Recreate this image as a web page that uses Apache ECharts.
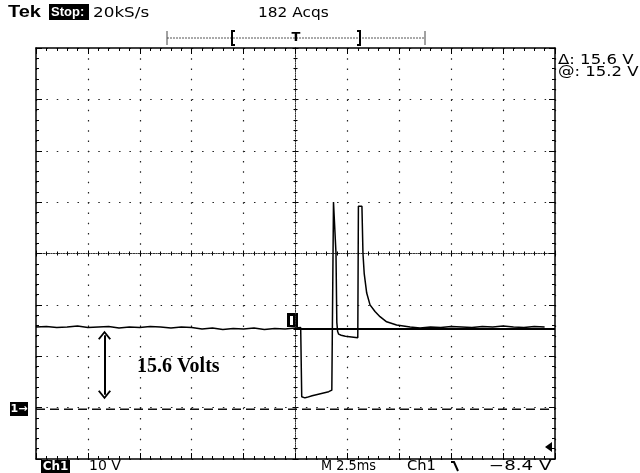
<!DOCTYPE html>
<html>
<head>
<meta charset="utf-8">
<script src="https://cdn.jsdelivr.net/npm/echarts@6/dist/echarts.min.js"></script>
<style>
  html, body { margin: 0; padding: 0; background: #fff; }
  #chart { width: 640px; height: 473px; }
</style>
</head>
<body>
<div id="chart"></div>
<script>
// Channel 1 capture: time in ms (trigger at 0), voltage in V
const traceTime = [
  -12.5, -12.0, -11.5, -11.0, -10.5, -10.0, -9.5, -9.0, -8.5, -8.0,
  -7.5, -7.0, -6.5, -6.0, -5.5, -5.0, -4.5, -4.0, -3.5, -3.0,
  -2.5, -2.0, -1.5, -1.0, -0.5, 0.0, 0.25,
  0.30, 0.45, 0.55, 0.8, 1.0, 1.2, 1.4, 1.6, 1.75, 1.80,
  1.83, 1.90, 1.95, 1.99, 2.03, 2.08, 2.2, 2.4, 2.6, 2.8, 3.0,
  3.03, 3.20, 3.25, 3.31, 3.43, 3.59, 3.83, 4.07, 4.39, 4.87, 5.52,
  6.0, 6.5, 7.0, 7.5, 8.0, 8.5, 9.0, 9.5, 10.0, 10.5, 11.0, 11.5, 12.0, 12.5
];
const traceVolts = [
  15.6, 15.7, 15.5, 15.6, 15.8, 15.5, 15.6, 15.7, 15.4, 15.6,
  15.5, 15.7, 15.6, 15.4, 15.6, 15.5, 15.2, 15.4, 15.1, 15.3,
  15.2, 15.4, 15.1, 15.3, 15.2, 15.4, 15.5,
  2.0, 1.8, 1.9, 2.2, 2.4, 2.6, 2.8, 3.0, 3.3, 3.5,
  39.9, 39.9, 30.0, 16.5, 14.7, 14.2, 14.0, 13.8, 13.7, 13.6, 13.5,
  39.1, 39.1, 29.9, 26.0, 22.2, 19.9, 18.6, 17.6, 16.6, 16.0, 15.6,
  15.4, 15.6, 15.5, 15.7, 15.6, 15.5, 15.7, 15.6, 15.8, 15.6, 15.5, 15.7, 15.6
];

// Horizontal bar cursors (V) and the marked amplitude
const cursorActive = 15.2;
const cursorRef = -0.4;
const cursorStart = -0.1;
const arrowTime = -9.2;
const arrowVolts = [2.4, 14.0];

// Screen scale: 10 horizontal divisions of 2.5 ms, 8 vertical of 10 V
const timeRange = [-12.5, 12.5];
const voltRange = [-10.1, 69.9];
const divX = [-5, 5];
const divY = [-4, 4];

const tracePairs = traceTime.map((t, i) => [t, traceVolts[i]]);

const G = { left: 36, top: 48, width: 519, height: 411 };
const ink = '#000';
const screenFont = '14px "DejaVu Sans", "Liberation Sans", sans-serif';

function frameAxis(gridIndex, position, range, dash, split) {
  return {
    type: 'value', gridIndex, position, min: range[0], max: range[1], interval: 1,
    axisLine: { show: true, onZero: false, lineStyle: { color: ink, width: 1.5 } },
    axisTick: { show: true, inside: true, length: 6, lineStyle: { color: ink } },
    minorTick: { show: true, splitNumber: 5, length: 3, lineStyle: { color: ink } },
    axisLabel: { show: false },
    splitLine: { show: split, lineStyle: { color: '#222', width: 1.2, type: dash } }
  };
}
function centerAxis(gridIndex, range, inside) {
  return {
    type: 'value', gridIndex, min: range[0], max: range[1], interval: 1,
    axisLine: { show: true, onZero: true, lineStyle: { color: '#333', width: 1, type: [1, 1.5] } },
    axisTick: { show: true, inside, length: 3, lineStyle: { color: ink } },
    minorTick: { show: true, splitNumber: 5, length: 2, lineStyle: { color: ink } },
    axisLabel: { show: false },
    splitLine: { show: false }
  };
}

// screen text, optionally stretched horizontally
function label(text, x, y, sx, extra) {
  return {
    type: 'text', x, y, scaleX: sx || 1,
    style: Object.assign({ text, font: screenFont, fill: ink, verticalAlign: 'middle' }, extra || {})
  };
}

const chevron = 'path://M0,10 L6,0 L12,10 L10.6,11.2 L6,3.6 L1.4,11.2 Z';

const option = {
  animation: false,
  backgroundColor: '#fff',
  grid: [ { ...G }, { ...G }, { ...G }, { ...G } ],
  xAxis: [
    { type: 'value', gridIndex: 0, min: timeRange[0], max: timeRange[1], show: false },
    frameAxis(1, 'bottom', divX, [1.5, 8.78], true),
    frameAxis(1, 'top', divX, [1.5, 8.78], false),
    centerAxis(2, divX, true),
    centerAxis(3, divX, false)
  ],
  yAxis: [
    { type: 'value', gridIndex: 0, min: voltRange[0], max: voltRange[1], show: false },
    frameAxis(1, 'left', divY, [1.5, 8.88], true),
    frameAxis(1, 'right', divY, [1.5, 8.88], false),
    centerAxis(2, divY, true),
    centerAxis(3, divY, false)
  ],
  series: [
    {
      name: 'Ch1', type: 'line', xAxisIndex: 0, yAxisIndex: 0,
      data: tracePairs, showSymbol: false, symbol: 'none',
      lineStyle: { color: ink, width: 1.5 }, z: 5
    },
    {
      name: 'cursor active', type: 'line', xAxisIndex: 0, yAxisIndex: 0,
      data: [[cursorStart, cursorActive], [timeRange[1], cursorActive]],
      showSymbol: false, symbol: 'none', lineStyle: { color: ink, width: 2 }, z: 4
    },
    {
      name: 'cursor ref', type: 'line', xAxisIndex: 0, yAxisIndex: 0,
      data: [[timeRange[0], cursorRef], [timeRange[1], cursorRef]],
      showSymbol: false, symbol: 'none',
      lineStyle: { color: '#111', width: 1.5, type: [9, 5] }, z: 4,
      markLine: {
        silent: true, symbol: [chevron, chevron], symbolSize: [13, 9],
        label: { show: false },
        lineStyle: { color: ink, width: 2, type: 'solid' },
        data: [[ { coord: [arrowTime, arrowVolts[0]] }, { coord: [arrowTime, arrowVolts[1]] } ]]
      }
    }
  ],
  graphic: [
    // header
    label('Tek', 8, 13, 1.25, { font: 'bold 16px "Liberation Sans", sans-serif' }),
    { type: 'rect', shape: { x: 49, y: 4, width: 40, height: 16 }, style: { fill: ink } },
    label('Stop:', 51, 12.5, 1.0, { font: 'bold 13px "Liberation Sans Narrow", "Liberation Sans", sans-serif', fill: '#fff' }),
    label('20kS/s', 93, 13, 1.2),
    label('182 Acqs', 258, 13, 1.1),
    // record view bar
    { type: 'line', shape: { x1: 167, y1: 38, x2: 425, y2: 38 }, style: { stroke: '#555', lineWidth: 1, lineDash: [2, 1] } },
    { type: 'line', shape: { x1: 167, y1: 31, x2: 167, y2: 45 }, style: { stroke: '#444', lineWidth: 1 } },
    { type: 'line', shape: { x1: 425, y1: 31, x2: 425, y2: 45 }, style: { stroke: '#444', lineWidth: 1 } },
    { type: 'polyline', shape: { points: [[235, 31], [232, 31], [232, 45], [235, 45]] }, style: { stroke: ink, lineWidth: 2, fill: null } },
    { type: 'polyline', shape: { points: [[357, 31], [360, 31], [360, 45], [357, 45]] }, style: { stroke: ink, lineWidth: 2, fill: null } },
    label('T', 296, 38, 1, { font: 'bold 13px "DejaVu Sans", sans-serif', align: 'center' }),
    // cursor readouts
    label('Δ: 15.6 V', 558, 60, 1.18),
    label('@: 15.2 V', 558, 72, 1.18),
    // amplitude annotation
    label('15.6 Volts', 137, 367, 1, { font: 'bold 20px "Liberation Serif", serif' }),
    // ground marker
    { type: 'rect', shape: { x: 10, y: 402, width: 18, height: 14 }, style: { fill: ink } },
    label('1→', 19, 409, 1, { font: 'bold 11px "DejaVu Sans", sans-serif', fill: '#fff', align: 'center' }),
    // trigger position marker on the trace
    { type: 'rect', shape: { x: 287, y: 313, width: 11, height: 14 }, style: { fill: ink } },
    { type: 'rect', shape: { x: 290, y: 316, width: 3, height: 9 }, style: { fill: '#fff' } },
    // trigger level arrow
    { type: 'polygon', shape: { points: [[545, 447], [552, 442], [552, 452]] }, style: { fill: ink } },
    // footer
    { type: 'rect', shape: { x: 41, y: 460, width: 29, height: 13 }, style: { fill: ink } },
    label('Ch1', 55.5, 466.5, 1, { font: 'bold 12px "DejaVu Sans", sans-serif', fill: '#fff', align: 'center' }),
    label('10 V', 89, 466, 1),
    label('M 2.5ms', 321, 466, 0.92),
    label('Ch1', 407, 466, 1.05),
    { type: 'polyline', shape: { points: [[451, 462], [454, 462], [458, 471]] }, style: { stroke: ink, lineWidth: 2, fill: null } },
    label('−8.4 V', 489, 466, 1.3)
  ]
};

const chart = echarts.init(document.getElementById('chart'), null, { renderer: 'canvas' });
chart.setOption(option);
</script>
</body>
</html>
